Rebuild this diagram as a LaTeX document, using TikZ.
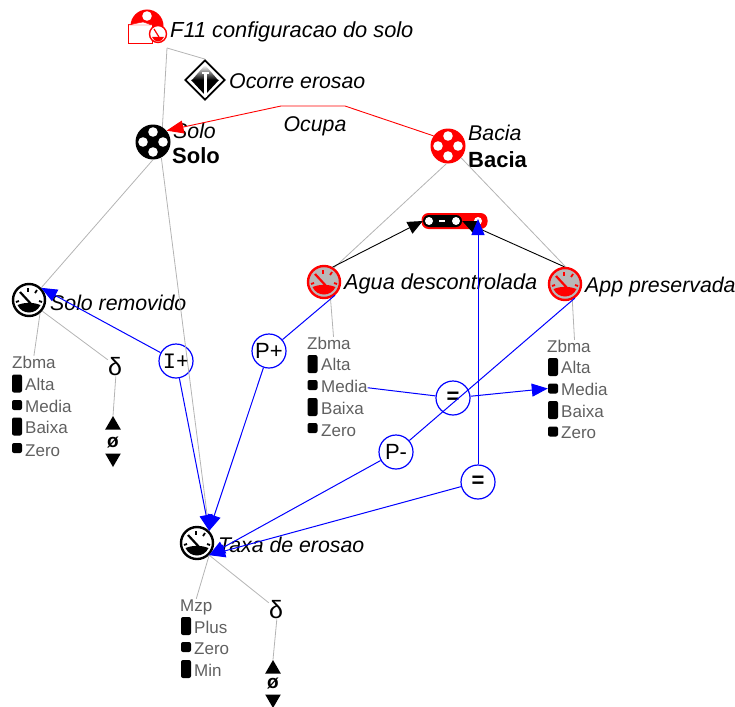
\documentclass[tikz,border=0pt]{standalone}
\usepackage{fontspec}
\setmainfont{Liberation Sans}
\newfontfamily\monofnt{Liberation Mono}
\usetikzlibrary{arrows.meta,shapes.geometric}
\definecolor{greyline}{HTML}{B4B4B4}
\definecolor{greytext}{HTML}{606060}
\definecolor{gaugefill}{HTML}{B8B8B8}
\tikzset{
  lbl/.style={anchor=west,inner sep=0pt,yshift=-1.2pt,text height=15pt,text depth=4.5pt,font=\fontsize{21.3}{22}\selectfont\itshape},
  boldlbl/.style={anchor=west,inner sep=0pt,yshift=-1.2pt,text height=15pt,text depth=4.5pt,font=\fontsize{22}{22}\selectfont\bfseries},
  qlbl/.style={anchor=west,inner sep=0pt,text height=12pt,text depth=3.5pt,text=greytext,font=\fontsize{17}{17}\selectfont},
  sym/.style={inner sep=0pt,font=\fontsize{25}{25}\selectfont},
  zerosym/.style={inner sep=0pt,font=\fontsize{19}{19}\selectfont\bfseries},
  tall/.style={fill=black,rounded corners=2pt,minimum width=10pt,minimum height=18pt,inner sep=0pt},
  small/.style={fill=black,rounded corners=2pt,minimum width=10pt,minimum height=10pt,inner sep=0pt},
  rel/.style={circle,draw=blue,line width=1.2pt,minimum size=34pt,inner sep=0pt,font=\fontsize{22}{22}\selectfont},
  grey/.style={draw=greyline,line width=.8pt},
  flow/.style={draw=blue,line width=1pt},
  flowarr/.style={flow,-{Triangle[length=16pt,width=13pt]}},
  blackarr/.style={draw=black,line width=.9pt,-{Triangle[length=15pt,width=13pt]}},
  tri/.style={fill=black,regular polygon,regular polygon sides=3,inner sep=0pt,minimum size=18pt}
}
\newcommand{\entityicon}[4]{
  \node[circle,fill=#4,minimum size=35pt,inner sep=0pt] (#1) at (#2,#3) {};
  \foreach \dx/\dy in {-10/0,10/0,0/-10,0/10}
    \fill[white] (#2+\dx,#3+\dy) circle (4.8pt);
}
\newcommand{\gaugeicon}[5]{
  \node[circle,draw=#4,fill=#5,line width=2.4pt,minimum size=32pt,inner sep=0pt] (#1) at (#2,#3) {};
  \begin{scope}[shift={(#2,#3)}]
    \fill[#4] (-11.5,5) .. controls (-3,2) and (3,2) .. (11.5,5)
      .. controls (7,15) and (-7,15) .. cycle;
    \draw[#4,line width=2.2pt] (-9,-8) -- (3,5);
    \foreach \ax/\ay/\bx/\by in {-13/2/-10/1,-1/-12/-1/-8.5,8/-10/6/-7,13/2/10/1}
      \draw[#4,line width=1.8pt] (\ax,\ay) -- (\bx,\by);
  \end{scope}
}
\begin{document}
\begin{tikzpicture}[x=1pt,y=-1pt]
  \useasboundingbox (0,0) rectangle (735,706);

  % scenario icon
  \node[circle,fill=red,minimum size=33pt,inner sep=0pt] (f11) at (147,26) {};
  \fill[white] (147,16) circle (4.8pt);
  \node[rectangle,draw=red,fill=white,line width=1pt,minimum width=24pt,minimum height=19pt,inner sep=0pt] (folder) at (140,34.5) {};
  \fill[white,draw=red] (128,25) -- (143,22) -- (152,25) -- cycle;
  \node[circle,draw=red,fill=white,line width=1.4pt,minimum size=17pt,inner sep=0pt] (f11g) at (158,34) {};
  \fill[red] (152,37) -- (164,37) .. controls (162,43) and (154,43) .. cycle;
  \draw[red,line width=1.2pt] (154,29) -- (159,37);
  \node[lbl,font=\fontsize{21.8}{22}\selectfont\itshape] (f11t) at (170,30.75) {F11 configuracao do solo};
  \coordinate (f11c) at (167,48);

  % assumption
  \node[diamond,draw=black,fill=white,line width=1.8pt,minimum size=40pt,inner sep=0pt] (erosao) at (205,80) {};
  \shade[top color=white,bottom color=black] (205,65) -- (192,80) -- (218,80) -- cycle;
  \fill[black] (191,80) -- (219,80) -- (205,95) -- cycle;
  \fill[white] (203.5,72) rectangle (206.5,97);
  \fill[white] (201.5,72) rectangle (208.5,74);
  \node[lbl] (erosaot) at (229,82) {Ocorre erosao};

  % entities
  \entityicon{solo}{153}{142}{black}
  \node[lbl] (solot) at (173,131.75) {Solo};
  \node[boldlbl] (solob) at (172,156.75) {Solo};
  \entityicon{bacia}{448}{146}{red}
  \node[lbl] (baciat) at (468,133.75) {Bacia};
  \node[boldlbl] (baciab) at (468,160.75) {Bacia};
  \node[lbl,anchor=center] (ocupa) at (315,124.75) {Ocupa};
  \coordinate (ocupa1) at (345,106);
  \coordinate (ocupa2) at (281,106);

  % inequality
  \node[rectangle,fill=red,rounded corners=7pt,minimum width=66pt,minimum height=16pt,inner sep=0pt] (ineq) at (454.5,221) {};
  \node[rectangle,fill=black,rounded corners=6pt,minimum width=39pt,minimum height=12pt,inner sep=0pt] (ineqb) at (442.5,221) {};
  \foreach \cx in {429,456,478}
    \fill[white] (\cx,221) circle (4pt);
  \fill[white] (439,220) rectangle (445,222);
  \coordinate (ineqm) at (478,219);

  % quantities
  \gaugeicon{agua}{324}{282}{red}{gaugefill}
  \node[lbl,font=\fontsize{21.7}{22}\selectfont\itshape] (aguat) at (344,282.75) {Agua descontrolada};
  \gaugeicon{app}{565}{284}{red}{gaugefill}
  \node[lbl] (appt) at (585,286.5) {App preservada};
  \gaugeicon{removido}{29}{300}{black}{white}
  \node[lbl] (removidot) at (50,303.75) {Solo removido};
  \gaugeicon{taxa}{197}{543}{black}{white}
  \node[lbl] (taxat) at (218,545.75) {Taxa de erosao};

  % quantity spaces
  \node[qlbl] (zbmaA) at (12,363.75) {Zbma};
  \node[tall] (mA1) at (17,383.5) {}; \node[qlbl] (tA1) at (25,385.75) {Alta};
  \node[small] (mA2) at (17,405) {}; \node[qlbl] (tA2) at (25,407.75) {Media};
  \node[tall] (mA3) at (17,426.5) {}; \node[qlbl] (tA3) at (25,428.75) {Baixa};
  \node[small] (mA4) at (17,448) {}; \node[qlbl] (tA4) at (25,451.75) {Zero};

  \node[qlbl] (zbmaB) at (307,344.75) {Zbma};
  \node[tall] (mB1) at (312.5,364) {}; \node[qlbl] (tB1) at (321,365.75) {Alta};
  \node[small] (mB2) at (312.5,385) {}; \node[qlbl] (tB2) at (321,387.75) {Media};
  \node[tall] (mB3) at (312.5,407) {}; \node[qlbl] (tB3) at (321,409.75) {Baixa};
  \node[small] (mB4) at (312.5,428) {}; \node[qlbl] (tB4) at (321,431.75) {Zero};

  \node[qlbl] (zbmaC) at (547,347.75) {Zbma};
  \node[tall] (mC1) at (553,367) {}; \node[qlbl] (tC1) at (561,368.75) {Alta};
  \node[small] (mC2) at (553,388.5) {}; \node[qlbl] (tC2) at (561,390.75) {Media};
  \node[tall] (mC3) at (553,410) {}; \node[qlbl] (tC3) at (561,412.75) {Baixa};
  \node[small] (mC4) at (553,431.5) {}; \node[qlbl] (tC4) at (561,433.75) {Zero};

  \node[qlbl] (mzp) at (180,606.75) {Mzp};
  \node[tall] (mD1) at (186,626) {}; \node[qlbl] (tD1) at (194,628.75) {Plus};
  \node[small] (mD2) at (186,647) {}; \node[qlbl] (tD2) at (194,649.75) {Zero};
  \node[tall] (mD3) at (186,669) {}; \node[qlbl] (tD3) at (194,671.75) {Min};

  % derivatives
  \node[sym] (deltaA) at (115,367) {δ};
  \node[tri] (upA) at (113,425) {};
  \node[zerosym] (zeroA) at (113,442) {ø};
  \node[tri,shape border rotate=180] (downA) at (113,458) {};
  \node[sym] (deltaB) at (276,610) {δ};
  \node[tri] (upB) at (273,669) {};
  \node[zerosym] (zeroB) at (273,683) {ø};
  \node[tri,shape border rotate=180] (downB) at (273,699) {};

  % relations
  \node[rel,font=\fontsize{22}{22}\selectfont\monofnt] (iplus) at (176,361) {I+};
  \node[rel] (pplus) at (269,351) {P+};
  \node[rel] (pminus) at (396,452) {P-};
  \node[rel,font=\fontsize{22}{22}\selectfont\bfseries] (eqa) at (453,398) {=};
  \node[rel,font=\fontsize{22}{22}\selectfont\bfseries] (eqb) at (478,482) {=};

  % structure lines
  \foreach \from/\to in {f11c/erosao.north,f11c/solo.58,solo.-90/removido.45,solo.-62/taxa.45,
    bacia.-95/agua.55,bacia.-42/app.88,agua.-68/zbmaB.60,app.-65/zbmaC.55,
    removido.-50/zbmaA.north,removido.-40/deltaA.135,deltaA.-85/upA.north,
    taxa.-45/mzp.north,taxa.-45/deltaB.135,deltaB.-85/upB.north}
    \draw[grey] (\from) -- (\to);

  % configuration
  \draw[red,line width=.9pt,-{Triangle[length=17pt,width=13pt]}] (bacia.145) -- (ocupa1) -- (ocupa2) -- (solo.40);

  % correspondences and influences
  \draw[blackarr] (agua.60) -- (ineqb.west);
  \draw[blackarr] (app.92) -- (ineqb.east);
  \foreach \from/\to in {iplus/removido.45,iplus/taxa.45,pplus/taxa.45,pminus/taxa.-45,eqb/taxa.-45,
    eqa/mC2.west}
    \draw[flowarr] (\from) -- (\to);
  \draw[flowarr] (eqb) -- (ineqm);
  \foreach \from/\to in {agua.-50/pplus,app.-55/pminus,tB2.east/eqa}
    \draw[flow] (\from) -- (\to);
\end{tikzpicture}
\end{document}
